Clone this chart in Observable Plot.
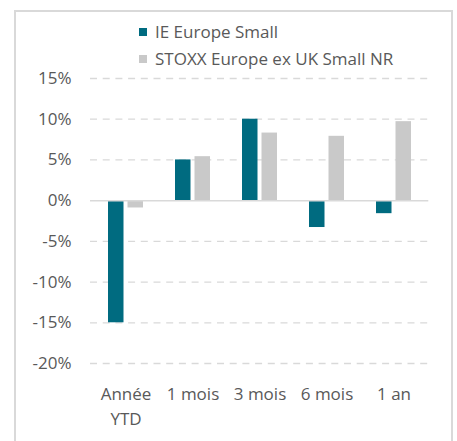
<!DOCTYPE html>
<html>
<head>
<meta charset="utf-8">
<script src="https://cdn.jsdelivr.net/npm/d3@7"></script>
<script src="https://cdn.jsdelivr.net/npm/@observablehq/plot@0.6"></script>
<style>
  html, body { margin: 0; padding: 0; background: #fff; }
  body { width: 457px; height: 441px; position: relative; overflow: hidden; font-family: "Open Sans", sans-serif; }
  #frame { position: absolute; left: 14px; top: 10px; width: 439px; height: 460px; border: 2px solid #d9d9d9; box-sizing: border-box; }
  #legend { position: relative; height: 58px; }
  .item { position: absolute; left: 139px; display: flex; align-items: center; font-size: 17px; color: #595959; white-space: nowrap; }
  .sw { width: 8px; height: 8px; margin-right: 8px; }
  #chart { position: relative; }
</style>
</head>
<body>
<div id="frame"></div>
<div id="legend"></div>
<div id="chart"></div>
<script>
const categories = ["Année YTD", "1 mois", "3 mois", "6 mois", "1 an"];
const tickLabels = ["Année\nYTD", "1 mois", "3 mois", "6 mois", "1 an"];
const seriesNames = ["IE Europe Small", "STOXX Europe ex UK Small NR"];
const ieValues = [-15.0, 5.0, 10.0, -3.3, -1.6];
const stoxxValues = [-0.9, 5.4, 8.3, 7.9, 9.7];
const yTicks = [15, 10, 5, 0, -5, -10, -15, -20];
const colors = ["#006b80", "#c9c9c9"];

const ieData = categories.map((c, i) => ({cat: c, value: ieValues[i]}));
const stoxxData = categories.map((c, i) => ({cat: c, value: stoxxValues[i]}));

// legend
const legend = document.getElementById("legend");
const legendTops = [20, 47];
seriesNames.forEach((name, i) => {
  const it = document.createElement("div");
  it.className = "item";
  it.style.top = legendTops[i] + "px";
  const sw = document.createElement("span");
  sw.className = "sw";
  sw.style.background = colors[i];
  const tx = document.createElement("span");
  tx.textContent = name;
  it.appendChild(sw); it.appendChild(tx);
  legend.appendChild(it);
});

const chart = Plot.plot({
  width: 457,
  height: 383,
  marginLeft: 90,
  marginRight: 28.7,
  marginTop: 20,
  marginBottom: 78,
  style: {fontFamily: "Open Sans, sans-serif", fontSize: "17px", color: "#595959", background: "transparent", overflow: "visible"},
  x: {domain: categories, paddingInner: 0.482, paddingOuter: 0.241, label: null},
  y: {domain: [-20, 15], label: null},
  marks: [
    Plot.ruleY(yTicks.filter(d => d !== 0), {stroke: "#d9d9d9", strokeWidth: 1.3, strokeDasharray: "7,5.7"}),
    Plot.barY(ieData, {x: "cat", y: "value", fill: colors[0], insetLeft: 0, insetRight: 19.5}),
    Plot.barY(stoxxData, {x: "cat", y: "value", fill: colors[1], insetLeft: 19.5, insetRight: 0}),
    Plot.ruleY([0], {stroke: "#d9d9d9", strokeWidth: 1.5}),
    Plot.axisY({ticks: yTicks, tickFormat: d => d + "%", tickSize: 0, tickPadding: 19, fontSize: 17, fill: "#595959", label: null}),
    Plot.axisX({tickSize: 0, tickPadding: 18, tickFormat: (d) => tickLabels[categories.indexOf(d)], lineHeight: 1.5, fontSize: 17, fill: "#595959", label: null})
  ]
});
document.getElementById("chart").appendChild(chart);
</script>
</body>
</html>
